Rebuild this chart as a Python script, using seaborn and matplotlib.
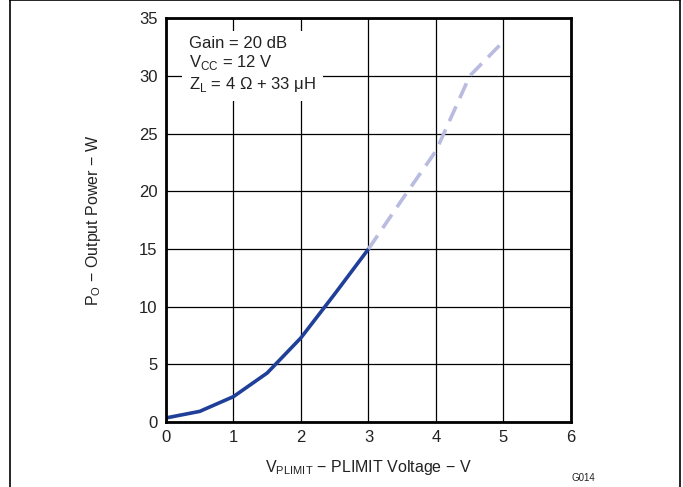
import seaborn as sns
import matplotlib.pyplot as plt
import pandas as pd
from matplotlib.lines import Line2D

# curve
v_solid = [0, 0.5, 1.0, 1.5, 2.0, 2.5, 3.0]
p_solid = [0.35, 0.92, 2.2, 4.25, 7.3, 11.1, 15.0]
v_dash = [3.0, 3.5, 4.0, 4.5, 5.0]
p_dash = [15.0, 19.3, 23.5, 30.0, 33.0]

x_ticks = [0, 1, 2, 3, 4, 5, 6]
y_ticks = [0, 5, 10, 15, 20, 25, 30, 35]

sns.set_theme(style="white")
plt.rcParams['font.family'] = ['Liberation Sans', 'DejaVu Sans']
plt.rcParams['mathtext.fontset'] = 'custom'
plt.rcParams['mathtext.rm'] = 'Liberation Sans'

df_solid = pd.DataFrame({"v": v_solid, "p": p_solid})
df_dash = pd.DataFrame({"v": v_dash, "p": p_dash})

fig = plt.figure(figsize=(6.83, 4.87), dpi=100)
ax = fig.add_axes([0.243, 0.1335, 0.593, 0.829])

sns.lineplot(data=df_solid, x="v", y="p", ax=ax, color="#1f3f99", linewidth=2.6)
sns.lineplot(data=df_dash, x="v", y="p", ax=ax, color="#b9bbe0", linewidth=2.6,
             dashes=False, linestyle=(0, (4.5, 2.5)))

ax.set_xlim(0, 6)
ax.set_ylim(0, 35)
ax.set_xticks(x_ticks)
ax.set_yticks(y_ticks)
ax.grid(True, color="black", linewidth=0.9)
ax.set_axisbelow(True)
for s in ax.spines.values():
    s.set_color("black")
    s.set_linewidth(2)
ax.tick_params(length=0, labelsize=12, colors="#222222", pad=6)

ax.set_xlabel(r"V$_\mathregular{PLIMIT}$ − PLIMIT Voltage − V", fontsize=11.5, color="#222222", labelpad=9)
ax.set_ylabel(r"P$_\mathregular{O}$ − Output Power − W", fontsize=11.5, color="#222222", labelpad=26)

ax.text(0.34, 33.5, "Gain = 20 dB\n" + r"V$_\mathregular{CC}$ = 12 V" + "\n" + r"Z$_\mathregular{L}$ = 4 Ω + 33 μH",
        fontsize=12, color="#222222", va="top", ha="left", linespacing=1.2,
        bbox=dict(facecolor="white", edgecolor="none", pad=5))

fig.text(583 / 683, 1 - 478 / 487, "G014", fontsize=7, color="#222222", ha="center", va="center")

# outer frame of the figure
fig.add_artist(Line2D([9.5 / 683, 9.5 / 683], [0, 1], color="black", linewidth=1.2))
fig.add_artist(Line2D([680 / 683, 680 / 683], [0, 1], color="black", linewidth=1.2))
fig.add_artist(Line2D([9.5 / 683, 680 / 683], [0.999, 0.999], color="black", linewidth=1.2))

fig.savefig("out.png", dpi=100)
